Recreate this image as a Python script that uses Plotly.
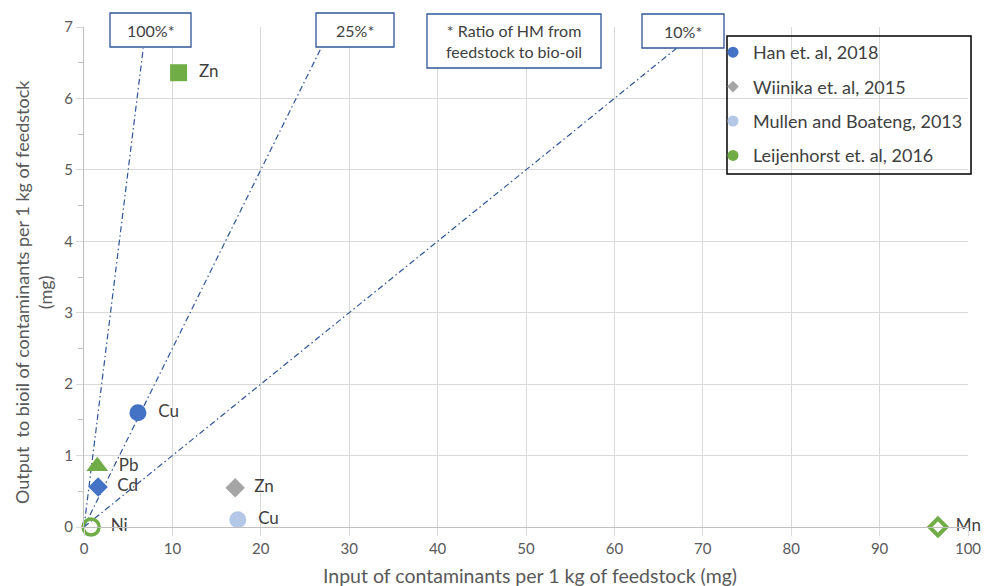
import plotly.graph_objects as go

# Series: (input mg per kg feedstock, output mg to bio-oil per kg feedstock)
han_labels = ["Cu", "Cd"]
han_x = [6.1, 1.6]
han_y = [1.6, 0.56]

wiinika_labels = ["Zn"]
wiinika_x = [17.1]
wiinika_y = [0.55]

mullen_labels = ["Cu"]
mullen_x = [17.4]
mullen_y = [0.1]

leij_labels = ["Zn", "Pb", "Ni", "Mn"]
leij_x = [10.7, 1.5, 0.8, 96.6]
leij_y = [6.36, 0.85, 0.0, 0.0]

# Transfer ratio reference lines (fraction of HM moving from feedstock to bio-oil)
ratio_values = [1.0, 0.25, 0.10]
ratio_labels = ["100%*", "25%*", "10%*"]
ratio_line_top = 6.7

x_ticks = [0, 10, 20, 30, 40, 50, 60, 70, 80, 90, 100]
y_ticks = [0, 1, 2, 3, 4, 5, 6, 7]

series_names = ["Han et. al, 2018", "Wiinika et. al, 2015",
                "Mullen and Boateng, 2013", "Leijenhorst et. al, 2016"]

BLUE = "#4472C4"
GRAY = "#A5A5A5"
LIGHT = "#B4C7E7"
GREEN = "#70AD47"
LINE = "#2F5597"
TXT = "#595959"
FONT = "Lato, Open Sans, sans-serif"

W, H = 992, 586
L, R, T, B = 84, 24, 27, 59
PW, PH = W - L - R, H - T - B


def px(x):
    return (x - L) / PW


def py(y):
    return (H - B - y) / PH


fig = go.Figure()

for r in ratio_values:
    fig.add_trace(go.Scatter(
        x=[0, ratio_line_top / r], y=[0, ratio_line_top], mode="lines",
        line=dict(color=LINE, width=1.2, dash="6px,3px,1.5px,3px"),
        showlegend=False, hoverinfo="skip"))

label_font = dict(family=FONT, size=17, color="#404040")
label_tpl = "  %{text}"

fig.add_trace(go.Scatter(
    x=han_x, y=han_y, text=han_labels, mode="markers+text",
    texttemplate=label_tpl, textposition="middle right", textfont=label_font,
    marker=dict(color=BLUE, symbol=["circle", "diamond"], size=[17, 15],
                opacity=1, line=dict(width=0)),
    showlegend=False, cliponaxis=False))
fig.add_trace(go.Scatter(
    x=wiinika_x, y=wiinika_y, text=wiinika_labels, mode="markers+text",
    texttemplate=label_tpl, textposition="middle right", textfont=label_font,
    marker=dict(color=GRAY, symbol="diamond", size=15, opacity=1,
                line=dict(width=0)),
    showlegend=False, cliponaxis=False))
fig.add_trace(go.Scatter(
    x=mullen_x, y=mullen_y, text=mullen_labels, mode="markers+text",
    texttemplate=label_tpl, textposition="middle right", textfont=label_font,
    marker=dict(color=LIGHT, symbol="circle", size=17, opacity=1,
                line=dict(width=0)),
    showlegend=False, cliponaxis=False))
fig.add_trace(go.Scatter(
    x=leij_x, y=leij_y, text=leij_labels, mode="markers+text",
    texttemplate=label_tpl, textposition="middle right", textfont=label_font,
    marker=dict(color=GREEN,
                symbol=["square", "triangle-up", "circle-open", "diamond-open"],
                size=[17, 19, 16, 13], opacity=1,
                line=dict(color=GREEN, width=[0, 0, 3.5, 4])),
    showlegend=False, cliponaxis=False))

# Legend entries
legend_styles = [(BLUE, "circle", 11), (GRAY, "diamond", 9),
                 (LIGHT, "circle", 11), (GREEN, "circle", 11)]
for name, (c, s, sz) in zip(series_names, legend_styles):
    fig.add_trace(go.Scatter(
        x=[None], y=[None], mode="markers", name=name, legendgroup=name,
        marker=dict(color=c, symbol=s, size=sz)))

shapes = []
annotations = []

# Ratio label boxes
boxes = [(110, 191, 13, 47, ratio_labels[0]),
         (316, 394, 13, 47, ratio_labels[1]),
         (642, 724, 14, 48, ratio_labels[2]),
         (427, 601, 14, 68, "* Ratio of HM from<br>feedstock to bio-oil")]
for x0, x1, y0, y1, t in boxes:
    shapes.append(dict(type="rect", xref="paper", yref="paper",
                       x0=px(x0), x1=px(x1), y0=py(y1), y1=py(y0),
                       line=dict(color=LINE, width=1.3), fillcolor="white",
                       layer="above"))
    annotations.append(dict(xref="paper", yref="paper",
                            x=px((x0 + x1) / 2), y=py((y0 + y1) / 2),
                            text=t, showarrow=False, xanchor="center",
                            yanchor="middle",
                            font=dict(family=FONT, size=16, color="#404040")))

# Legend frame
shapes.append(dict(type="rect", xref="paper", yref="paper",
                   x0=px(727), x1=px(971), y0=py(174), y1=py(36),
                   line=dict(color="#000000", width=1.5),
                   fillcolor="rgba(255,255,255,0)", layer="above"))

# Axis titles
annotations.append(dict(xref="paper", yref="paper", x=px(530), y=py(575),
                        text="Input of contaminants per 1 kg of feedstock (mg)",
                        showarrow=False, xanchor="center", yanchor="middle",
                        font=dict(family=FONT, size=19.5, color=TXT)))
annotations.append(dict(xref="paper", yref="paper", x=px(33), y=py(292),
                        text="Output  to bioil of contaminants per 1 kg of feedstock<br>(mg)",
                        textangle=-90, showarrow=False, xanchor="center",
                        yanchor="middle",
                        font=dict(family=FONT, size=18, color=TXT)))

fig.update_layout(
    width=W, height=H,
    margin=dict(l=L, r=R, t=T, b=B),
    paper_bgcolor="white", plot_bgcolor="white",
    shapes=shapes, annotations=annotations,
    showlegend=True,
    legend=dict(x=px(733 - 20), y=py(34), xanchor="left", yanchor="top",
                bgcolor="rgba(0,0,0,0)", borderwidth=0,
                font=dict(family=FONT, size=18, color="#404040"),
                traceorder="grouped", tracegroupgap=8),
    xaxis=dict(range=[0, 100], tickvals=x_ticks, showgrid=True,
               gridcolor="#D9D9D9", gridwidth=1, zeroline=False,
               showline=True, linecolor="#BFBFBF", linewidth=1,
               ticks="outside", ticklen=8, tickcolor="#D9D9D9",
               tickfont=dict(family=FONT, size=15, color=TXT)),
    yaxis=dict(range=[0, 7], tickvals=y_ticks, showgrid=True,
               gridcolor="#D9D9D9", gridwidth=1, zeroline=False,
               showline=True, linecolor="#BFBFBF", linewidth=1,
               ticks="outside", ticklen=7, tickcolor="#D9D9D9",
               minor=dict(dtick=0.5, ticks="outside", ticklen=5,
                          tickcolor="#BFBFBF", showgrid=False),
               tickfont=dict(family=FONT, size=15, color=TXT)),
)

fig.write_html("out.html")
